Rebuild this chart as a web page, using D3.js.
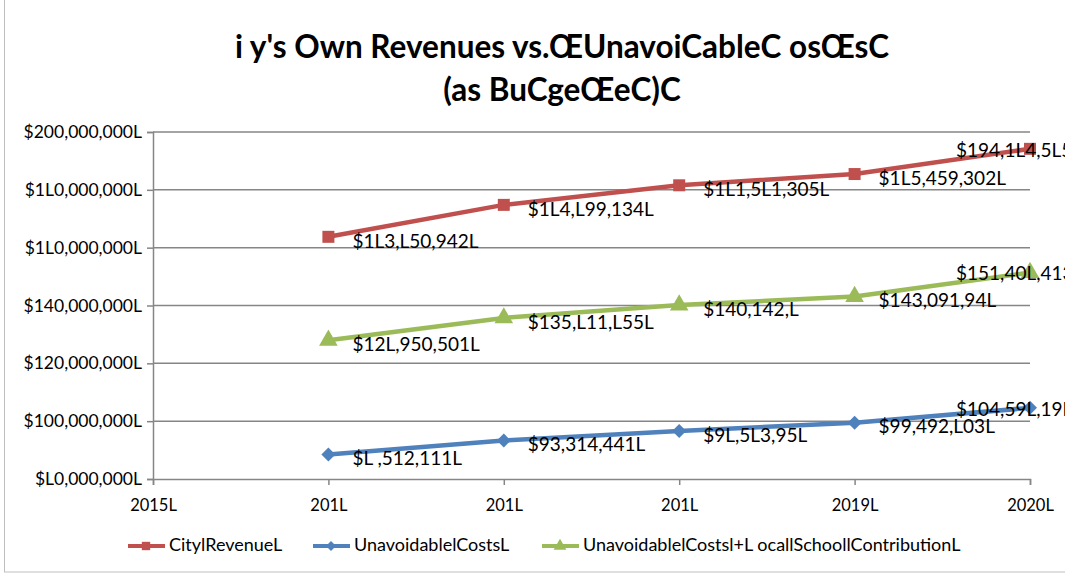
<!DOCTYPE html>
<html>
  <head>
    <meta charset="utf-8">
    <title>City's Own Revenues vs. Unavoidable Costs</title>
    <script src="https://d3js.org/d3.v7.min.js"></script>
    <style>
      body { margin: 0; background: #fff; }
      text { font-family: Lato, "Open Sans", sans-serif; fill: #000; }
    </style>
  </head>
  <body>
    <div id="chart"></div>

    <script>
      // data
      const years = [2015, 2016, 2017, 2018, 2019, 2020];
      const yearLabels = ['2015L', '201L', '201L', '201L', '2019L', '2020L'];
      const dataYears = [2016, 2017, 2018, 2019, 2020];

      const cityRevenue = [163750942, 174799134, 181571305, 185459302, 194174575];
      const unavoidable = [88512111, 93314441, 96573958, 99492703, 104597197];
      const unavoidableSchool = [127950501, 135711755, 140142700, 143091948, 151407413];

      const cityLabels = ['$1L3,L50,942L', '$1L4,L99,134L', '$1L1,5L1,305L', '$1L5,459,302L', '$194,1L4,5L5L'];
      const unavoidLabels = ['$L  ,512,111L', '$93,314,441L', '$9L,5L3,95L', '$99,492,L03L', '$104,59L,19L'];
      const schoolLabels = ['$12L,950,501L', '$135,L11,L55L', '$140,142,L', '$143,091,94L', '$151,40L,413L'];

      const yTicks = [80e6, 100e6, 120e6, 140e6, 160e6, 180e6, 200e6];
      const yTickLabels = ['$L0,000,000L', '$100,000,000L', '$120,000,000L', '$140,000,000L',
                           '$1L0,000,000L', '$1L0,000,000L', '$200,000,000L'];

      const titleLines = ["i y's Own Revenues vs.\u0152UnavoiCableC os\u0152sC", '(as BuCge\u0152eC)C'];

      // diamond = square turned 45 degrees
      const series = [
        { name: 'CitylRevenueL', values: cityRevenue, labels: cityLabels, color: '#c0504d', marker: d3.symbolSquare, size: 144, rot: 0 },
        { name: 'UnavoidablelCostsL', values: unavoidable, labels: unavoidLabels, color: '#4f81bd', marker: d3.symbolSquare, size: 98, rot: 45 },
        { name: 'UnavoidablelCostsl+L ocallSchoollContributionL', values: unavoidableSchool, labels: schoolLabels, color: '#9bbb59', marker: d3.symbolTriangle, size: 150, rot: 0 }
      ];

      const width = 1065, height = 574;
      const svg = d3.select('#chart').append('svg')
        .attr('width', width)
        .attr('height', height);

      // chart area border
      svg.append('rect')
        .attr('x', 4.5).attr('y', -2).attr('width', 1080).attr('height', 574)
        .attr('fill', 'none').attr('stroke', '#bfbfbf');

      const x = d3.scaleLinear().domain([2015, 2020]).range([153, 1030]);
      const y = d3.scaleLinear().domain([80e6, 200e6]).range([479, 132]);

      // title
      svg.append('g').selectAll('text')
        .data(titleLines)
        .enter().append('text')
        .attr('x', 562)
        .attr('y', (d, i) => 58 + i * 43)
        .attr('text-anchor', 'middle')
        .attr('font-size', 31.5)
        .attr('font-weight', 'bold')
        .text(d => d);

      // gridlines
      svg.append('g').selectAll('line')
        .data(yTicks.slice(1))
        .enter().append('line')
        .attr('x1', 153).attr('x2', 1030)
        .attr('y1', d => y(d)).attr('y2', d => y(d))
        .attr('stroke', '#868686').attr('stroke-width', 1.5);

      // y axis
      const yAxis = svg.append('g')
        .attr('transform', 'translate(153,0)')
        .call(d3.axisLeft(y).tickValues(yTicks).tickSize(6).tickPadding(5)
          .tickFormat((d, i) => yTickLabels[i]));
      yAxis.select('.domain').attr('stroke', '#868686').attr('stroke-width', 1.5);
      yAxis.selectAll('.tick line').attr('stroke', '#868686').attr('stroke-width', 1.5);
      yAxis.selectAll('.tick text').attr('font-size', 17.5).attr('font-family', 'Lato');

      // x axis
      const xAxis = svg.append('g')
        .attr('transform', 'translate(0,479)')
        .call(d3.axisBottom(x).tickValues(years).tickSize(6).tickPadding(14)
          .tickFormat((d, i) => yearLabels[i]));
      xAxis.select('.domain').attr('stroke', '#868686').attr('stroke-width', 1.5);
      xAxis.selectAll('.tick line').attr('stroke', '#868686').attr('stroke-width', 1.5);
      xAxis.selectAll('.tick text').attr('font-size', 16.5).attr('font-family', 'Lato');

      const line = d3.line()
        .x((d, i) => x(dataYears[i]))
        .y(d => y(d));

      // lines, markers and labels
      series.forEach(s => {
        const g = svg.append('g');
        g.append('path')
          .attr('d', line(s.values))
          .attr('fill', 'none')
          .attr('stroke', s.color)
          .attr('stroke-width', 4.5)
          .attr('stroke-linejoin', 'round');
        g.selectAll('path.mk')
          .data(s.values)
          .enter().append('path')
          .attr('class', 'mk')
          .attr('transform', (d, i) => `translate(${x(dataYears[i])},${y(d)}) rotate(${s.rot})`)
          .attr('d', d3.symbol().type(s.marker).size(s.size))
          .attr('fill', s.color);
        g.selectAll('text')
          .data(s.values)
          .enter().append('text')
          .attr('x', (d, i) => i === s.values.length - 1 ? x(dataYears[i]) - 74 : x(dataYears[i]) + 24)
          .attr('y', (d, i) => i === s.values.length - 1 ? y(d) + 3 : y(d) + 6)
          .attr('dominant-baseline', 'middle')
          .attr('font-size', 19)
          .text((d, i) => s.labels[i]);
      });

      // legend
      const legendX = [128, 313, 542];
      const legend = svg.append('g').selectAll('g')
        .data(series)
        .enter().append('g')
        .attr('transform', (d, i) => `translate(${legendX[i]},546)`);
      legend.append('line')
        .attr('x1', 0).attr('x2', 37)
        .attr('stroke', d => d.color).attr('stroke-width', 4);
      legend.append('path')
        .attr('transform', d => `translate(18,0) rotate(${d.rot})`)
        .attr('d', d => d3.symbol().type(d.marker).size(d.rot ? 50 : 70)())
        .attr('fill', d => d.color);
      legend.append('text')
        .attr('x', 41)
        .attr('dominant-baseline', 'middle')
        .attr('font-size', 18)
        .text(d => d.name);
    </script>
  </body>
</html>
